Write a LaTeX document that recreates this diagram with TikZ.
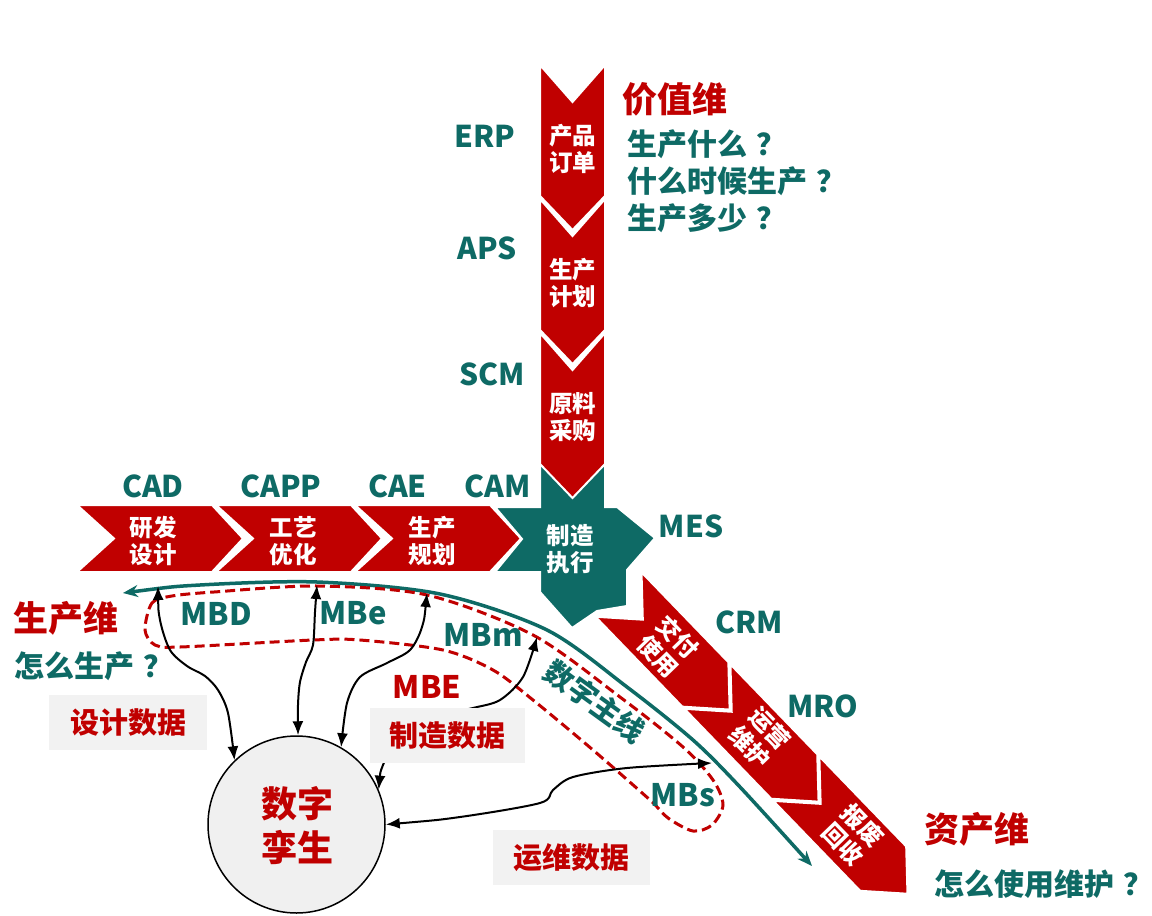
\documentclass[tikz,border=0pt]{standalone}
\usepackage{fontspec}
\setmainfont{Noto Sans CJK SC}
\usetikzlibrary{arrows.meta}
\definecolor{cred}{RGB}{192,0,0}
\definecolor{cteal}{RGB}{14,106,101}
\definecolor{boxgray}{RGB}{242,242,242}
\definecolor{circgray}{RGB}{240,240,240}
\newcommand\fsz[2]{\fontsize{#1}{#2}\selectfont}
\newcommand\qm{\hspace{0.3em}？}
\begin{document}
\begin{tikzpicture}[x=1pt,y=-1pt,
 chev/.style={fill=cred,draw=white,line width=2pt,line join=miter},
 mfstar/.style={fill=cteal,draw=white,line width=2pt,line join=miter},
 ctext/.style={text=white,font=\bfseries\fsz{23.5}{27},align=center,inner sep=0pt},
 tlab/.style={text=cteal,font=\bfseries\fsz{30}{36},inner sep=0pt},
 mlab/.style={text=cteal,font=\bfseries\fsz{31}{36},inner sep=0pt},
 rhead/.style={text=cred,font=\bfseries\fsz{35}{40},inner sep=0pt},
 qlab/.style={text=cteal,font=\bfseries\fsz{30}{36},inner sep=0pt,anchor=west},
 gbox/.style={fill=boxgray,text=cred,font=\bfseries\fsz{29}{34},minimum height=55pt,inner sep=0pt},
 conn/.style={black,line width=2pt,{Latex[length=14pt,width=11pt]}-{Latex[length=14pt,width=11pt]}},
 thread/.style={cteal,line width=3.5pt,{Stealth[length=15pt,width=12pt]}-{Stealth[length=15pt,width=12pt]}},
 mbloop/.style={cred,line width=3pt,dash pattern=on 10pt off 5pt}]

\useasboundingbox (0,0) rectangle (1152,916);
\fill[white] (0,0) rectangle (1152,916);

% vertical chevrons 1,2
\foreach \t in {65,199}
  \path[chev] (540,\t) -- (572.5,\t+37) -- (605,\t) -- (605,\t+131) -- (572.5,\t+165) -- (540,\t+131) -- cycle;
% star
\path[mfstar] (540,465) -- (605,465) -- (605,507) -- (617,507) -- (655,538) -- (627,570) -- (627,606) -- (597,611) -- (572,628) -- (540,592) -- (540,572) -- (495,572) -- (522,539) -- (495,507) -- (540,507) -- cycle;
% vertical chevron 3
\path[chev] (540,333) -- (572.5,370) -- (605,333) -- (605,464) -- (572.5,498) -- (540,464) -- cycle;
% horizontal chevrons
\foreach \t in {77,216,355}
  \path[chev] (\t,505) -- (\t+37,538.5) -- (\t,572) -- (\t+135,572) -- (\t+166,538.5) -- (\t+135,505) -- cycle;
% diagonal chevrons
\begin{scope}[shift={(618.5,594.5)},rotate=-46]
\foreach \u in {0,128,256}
  \path[chev] (\u,-32) -- (\u+35,0) -- (\u,32) -- (\u+125,32) -- (\u+160,0) -- (\u+125,-32) -- cycle;
\end{scope}

% chevron texts
\node[ctext] (c1) at (572.5,149) {产品\\订单};
\node[ctext] (c2) at (572.5,283) {生产\\计划};
\node[ctext] (c3) at (572.5,417) {原料\\采购};
\node[ctext] (h1) at (153,541) {研发\\设计};
\node[ctext] (h2) at (293,541) {工艺\\优化};
\node[ctext] (h3) at (432,541) {生产\\规划};
\node[ctext] (mfg) at (570,549) {制造\\执行};
\node[ctext,rotate=-46] (d1) at (668,647) {交付\\使用};
\node[ctext,rotate=-46] (d2) at (760,738) {运营\\维护};
\node[ctext,rotate=-46] (d3) at (853,835) {报废\\回收};

% system labels
\node[tlab] (erp) at (485,136) {ERP};
\node[tlab] (aps) at (487,248) {APS};
\node[tlab] (scm) at (492,374) {SCM};
\node[tlab] (cad) at (153,486) {CAD};
\node[tlab] (capp) at (281,486) {CAPP};
\node[tlab] (cae) at (397.5,486) {CAE};
\node[tlab] (cam) at (497.5,486) {CAM};
\node[tlab] (mes) at (691,526) {MES};
\node[tlab] (crm) at (749,622) {CRM};
\node[tlab] (mro) at (823,706) {MRO};

% headers and questions
\node[rhead] (val) at (675,99) {价值维};
\node[qlab] (q1) at (627,144) {生产什么\qm};
\node[qlab] (q2) at (627,181) {什么时候生产\qm};
\node[qlab] (q3) at (627,218) {生产多少\qm};
\node[rhead] (prod) at (66,618) {生产维};
\node[qlab] (q4) at (14,666) {怎么生产\qm};
\node[rhead] (asset) at (977,829) {资产维};
\node[qlab] (q5) at (934,884) {怎么使用维护\qm};

% digital twin
\node[circle,draw=black,line width=1.5pt,fill=circgray,minimum size=177pt,inner sep=0pt] (twin) at (296.5,824.5) {};
\node[text=cred,font=\bfseries\fsz{36}{44},align=center,inner sep=0pt] (twintxt) at (297.5,826) {数字\\孪生};

% digital thread
\coordinate (thL) at (123,593);
\coordinate (thR) at (812,866);
\draw[thread] plot[smooth] coordinates {(thL) (200,585) (317,582) (440,594) (547,630) (627,687) (693,740) (740,787) (thR)};

% dashed MBE loop
\draw[mbloop] plot[smooth cycle] coordinates {(145,630) (152,603) (172,596) (214,592) (317,586) (427,595) (533,635) (620,697) (683,747) (713,780) (723,805) (712,825) (693,831) (668,818) (650,800) (593,750) (533,700) (493,670) (443,650) (360,640) (313,640) (180,647) (155,645)};

% connectors
\coordinate (a1) at (158,586);
\coordinate (a2) at (317,585);
\coordinate (a3) at (427,593);
\coordinate (a4) at (537,637);
\coordinate (a5) at (712,763);
\draw[conn] plot[smooth] coordinates {(a1) (160,620) (170,650) (187,666) (205,676) (218,690) (228,713) (twin.134)};
\draw[conn] plot[smooth] coordinates {(a2) (315,612) (313,645) (306,662) (300,682) (298,705) (twin.89)};
\draw[conn] plot[smooth] coordinates {(a3) (422,627) (410,650) (387,663) (360,677) (347,703) (twin.60)};
\draw[conn] plot[smooth] coordinates {(twin.23) (383,765) (398,740) (430,718) (473,708) (500,700) (523,677) (a4)};
\draw[conn] plot[smooth] coordinates {(twin.0) (460,817) (540,803) (553,790) (573,777) (627,768) (a5)};

% data boxes
\node[gbox,minimum width=158pt] (dd) at (128,722.5) {设计数据};
\node[gbox,minimum width=155pt] (md) at (447.5,735.5) {制造数据};
\node[gbox,minimum width=157pt] (od) at (571.5,857.5) {运维数据};

% model labels
\node[mlab] (mbd) at (216,614) {MBD};
\node[mlab] (mbe1) at (353,613) {MBe};
\node[mlab] (mbm) at (483,635) {MBm};
\node[mlab,text=cred] (mbe) at (427,687) {MBE};
\node[mlab] (mbs) at (683,795) {MBs};
\node[text=cteal,font=\bfseries\fsz{29}{34},inner sep=0pt,rotate=-36] (thread) at (595,702) {数字主线};
\end{tikzpicture}
\end{document}
